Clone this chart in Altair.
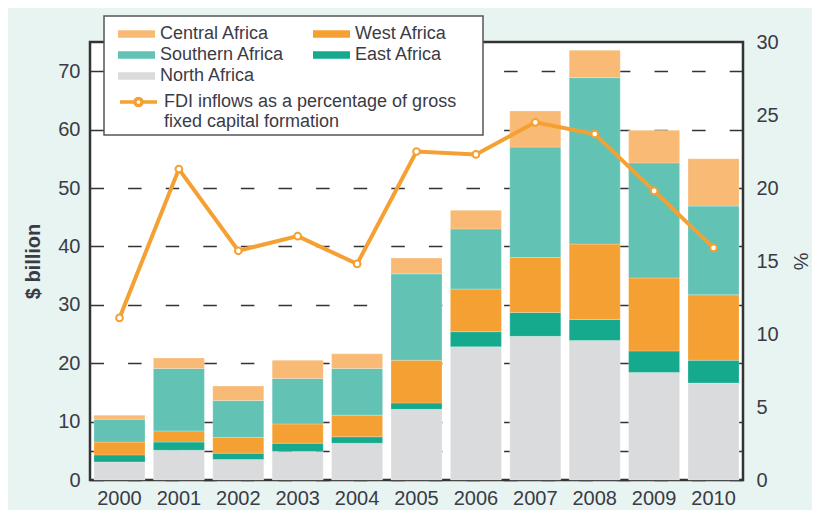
import altair as alt
import pandas as pd

years = ["2000", "2001", "2002", "2003", "2004", "2005", "2006", "2007", "2008", "2009", "2010"]
north = [3.1, 5.1, 3.5, 4.9, 6.3, 12.1, 22.8, 24.6, 23.9, 18.4, 16.6]
east = [1.2, 1.4, 1.1, 1.4, 1.1, 1.1, 2.6, 4.1, 3.6, 3.7, 3.9]
west = [2.2, 1.9, 2.7, 3.3, 3.7, 7.3, 7.3, 9.4, 12.9, 12.5, 11.2]
southern = [3.9, 10.7, 6.3, 7.8, 8.0, 14.8, 10.3, 18.9, 28.5, 19.7, 15.2]
central = [0.7, 1.8, 2.5, 3.1, 2.5, 2.7, 3.2, 6.2, 4.7, 5.6, 8.1]
fdi_pct = [11.1, 21.3, 15.7, 16.7, 14.8, 22.5, 22.3, 24.5, 23.7, 19.8, 15.9]

# legend order (column-major, 2 columns)
regions = ["Central Africa", "Southern Africa", "North Africa", "West Africa", "East Africa"]
region_colors = ["#F9BA76", "#62C3B5", "#DADBDD", "#F5A032", "#15A98D"]
stack_order = {"North Africa": 0, "East Africa": 1, "West Africa": 2, "Southern Africa": 3, "Central Africa": 4}
series_values = {"North Africa": north, "East Africa": east, "West Africa": west,
                 "Southern Africa": southern, "Central Africa": central}
line_label = "FDI inflows as a percentage of gross fixed capital formation"

rows = []
for reg, vals in series_values.items():
    for y, v in zip(years, vals):
        rows.append({"year": y, "region": reg, "value": v, "ord": stack_order[reg]})
bars_df = pd.DataFrame(rows)
line_df = pd.DataFrame({"year": years, "pct": fdi_pct, "series": [line_label] * len(years)})

TXT = "#3b3b46"
ORANGE = "#F5A032"
FONT = "Liberation Sans"

xenc = alt.X("year:O", title=None,
             scale=alt.Scale(paddingInner=0.141, paddingOuter=0.067),
             axis=alt.Axis(labelAngle=0, ticks=False, domain=False, labelPadding=8,
                           labelFontSize=20, labelFont=FONT, labelColor=TXT))

bars = alt.Chart(bars_df).mark_bar(stroke="white", strokeWidth=0.4, strokeOpacity=0.6).encode(
    x=xenc,
    y=alt.Y("sum(value):Q", title="$ billion",
            scale=alt.Scale(domain=[0, 75], nice=False),
            axis=alt.Axis(values=[0, 5, 10, 20, 30, 40, 50, 60, 70],
                          labelExpr="datum.value == 5 ? '' : datum.label",
                          grid=True, gridColor="#333333", gridWidth=1.4, gridDash=[13.5, 24.1],
                          ticks=False, domain=False, labelPadding=10,
                          labelFontSize=20, labelFont=FONT, labelColor=TXT,
                          titleFontSize=20, titleFontWeight="bold", titleFont=FONT,
                          titleColor=TXT, titlePadding=14)),
    color=alt.Color("region:N", sort=regions,
                    scale=alt.Scale(domain=regions, range=region_colors),
                    legend=alt.Legend(title=None, orient="none", legendX=36.5, legendY=-18,
                                      columns=2, columnPadding=28, rowPadding=2, padding=0,
                                      symbolType="M-1.85,-0.37H1.85V0.37H-1.85Z", symbolSize=400,
                                      symbolStrokeWidth=0, symbolOpacity=1,
                                      labelFont=FONT, labelFontSize=18, labelColor=TXT,
                                      labelOffset=13.5, labelLimit=300)),
    order=alt.Order("ord:Q", sort="ascending"),
)

line_sym = ("M-1.85,0H-0.36M0.36,0H1.85"
            "M-0.36,0A0.36,0.36 0 1 0 0.36,0A0.36,0.36 0 1 0 -0.36,0Z")

yright = alt.Y("pct:Q", title="%", scale=alt.Scale(domain=[0, 30], nice=False),
               axis=alt.Axis(orient="right", values=[0, 5, 10, 15, 20, 25, 30],
                             grid=False, ticks=False, domain=False, labelPadding=13,
                             labelFontSize=20, labelFont=FONT, labelColor=TXT,
                             titleFontSize=20, titleFontWeight="normal", titleFont=FONT,
                             titleColor=TXT, titlePadding=11))

line = alt.Chart(line_df).mark_line(strokeWidth=4).encode(
    x=xenc,
    y=yright,
    stroke=alt.Stroke("series:N", scale=alt.Scale(range=[ORANGE]),
                      legend=alt.Legend(title=None, orient="none", legendX=36.5, legendY=48, padding=0,
                                        symbolType=line_sym, symbolSize=400,
                                        symbolStrokeWidth=3.5, symbolFillColor="white",
                                        labelExpr="['FDI inflows as a percentage of gross', 'fixed capital formation']",
                                        labelFont=FONT, labelFontSize=18, labelColor=TXT,
                                        labelOffset=13.5, labelLimit=400)),
)

points = alt.Chart(line_df).mark_point(filled=True, fill="white", stroke=ORANGE, strokeWidth=2,
                                       size=45, opacity=1, shape="circle").encode(
    x=xenc,
    y=alt.Y("pct:Q", scale=alt.Scale(domain=[0, 30], nice=False), axis=None),
)

legend_box = alt.Chart(alt.Data(values=[{"k": 1}])).mark_rect(
    fill="white", stroke="#555555", strokeWidth=1.5).encode(
    x=alt.value(14), x2=alt.value(393), y=alt.value(-26), y2=alt.value(93))

chart = alt.layer(bars, legend_box, line, points).resolve_scale(
    y="independent", color="independent", stroke="independent"
).properties(
    width=653, height=438,
    autosize=alt.AutoSizeParams(type="none"),
    padding={"left": 82, "top": 34, "right": 69, "bottom": 30},
    background="#E7F4F1",
).configure_view(
    fill="white", stroke="#333333", strokeWidth=2.5
)

chart.save("out.html", embed_options={"renderer": "svg", "actions": False})
